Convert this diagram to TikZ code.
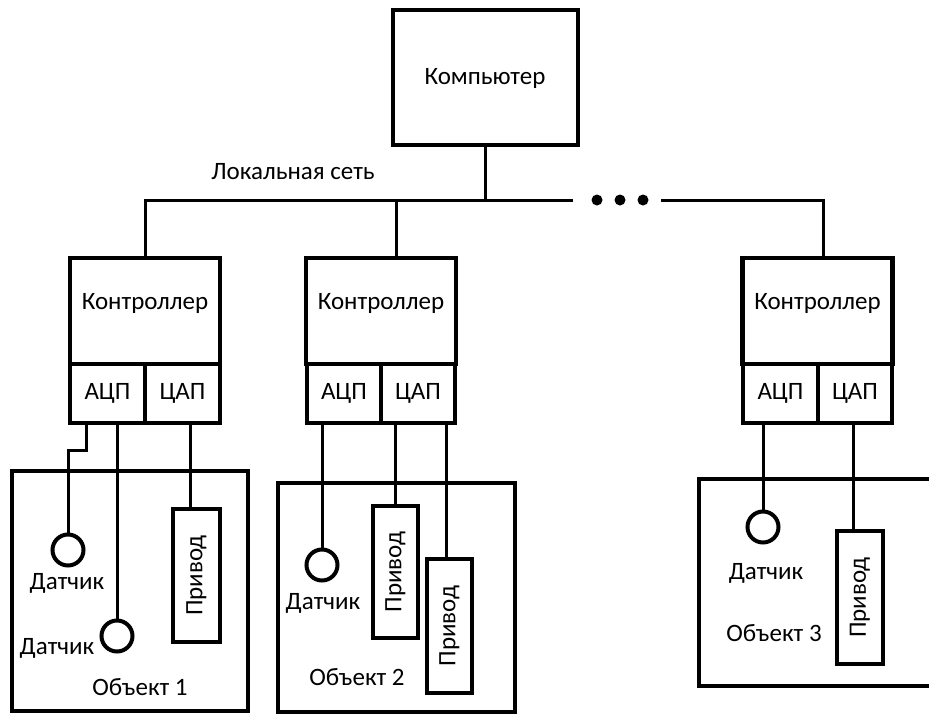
\documentclass[tikz,border=0pt]{standalone}
\usepackage{fontspec}
\setmainfont{Carlito}
\begin{document}
\begin{tikzpicture}[x=1pt,y=-1pt,
  blk/.style={draw, line width=4.2pt, inner sep=0pt},
  wire/.style={line width=3pt},
  sens/.style={draw, circle, line width=4pt, minimum size=31pt, inner sep=0pt},
  lbl/.style={inner sep=0pt, font=\fontsize{25}{30}\selectfont},
  dot/.style={fill, circle, minimum size=11pt, inner sep=0pt}]
\useasboundingbox (0,0) rectangle (929,715);
\clip (0,0) rectangle (929,715);
\fill[white] (0,0) rectangle (929,715);

% Computer
\node[blk, minimum width=185pt, minimum height=135pt] (comp) at (485.5,77.5) {};
\node[lbl] (compt) at (485,78) {Компьютер};
\node[lbl] (net) at (293,172) {Локальная сеть};

% bus coordinates
\coordinate (busE) at (573,200);
\coordinate (busS) at (661,200);
\coordinate (bus2) at (396,200);
\coordinate (busR) at (823,200);
\node[dot] (dt1) at (597,200) {};
\node[dot] (dt2) at (620,200) {};
\node[dot] (dt3) at (643,200) {};

% Controllers
\foreach \n/\xc/\axc/\dxc/\waa/\wdd in {1/145/107.5/182.5/75/75, 2/381/344/418/74/74, 3/817.5/780.5/855/75/74}{
  \node[blk, minimum width=150pt, minimum height=106pt] (c\n) at (\xc,311) {};
  \node[lbl] (ct\n) at (\xc,303) {Контроллер};
  \node[blk, minimum width=\waa pt, minimum height=59pt] (a\n) at (\axc,393.5) {};
  \node[lbl] at (a\n.center) {АЦП};
  \node[blk, minimum width=\wdd pt, minimum height=59pt] (d\n) at (\dxc,393.5) {};
  \node[lbl] at (d\n.center) {ЦАП};
}

% bus wiring
\draw[wire] (c1.north) |- (busE);
\draw[wire] (comp.south) -- (comp.south |- busE);
\draw[wire] (bus2) -- (c2.north -| bus2);
\draw[wire] (busS) -| (c3.north -| busR);

% Objects
\node[blk, minimum width=236pt, minimum height=240pt] (o1) at (130,591) {};
\node[blk, minimum width=237pt, minimum height=229pt] (o2) at (396.5,597.5) {};
\node[blk, minimum width=260pt, minimum height=207pt] (o3) at (829,582.5) {};

% Object 1 contents
\node[sens] (s1a) at (68,550) {};
\node[sens] (s1b) at (117,636) {};
\node[blk, minimum width=47pt, minimum height=133pt] (p1) at (196.5,575.5) {};
\node[lbl, rotate=90] at (p1.center) {Привод};
\node[lbl] at (67,583) {Датчик};
\node[lbl] at (57,648) {Датчик};
\node[lbl] at (140,687) {Объект 1};
\coordinate (j1) at (86,450);
\coordinate (w1) at (190,460);
\draw[wire] (a1.south -| j1) -- (j1) -| (s1a.north);
\draw[wire] (a1.south -| s1b) -- (s1b.north);
\draw[wire] (d1.south -| w1) -- (p1.north -| w1);

% Object 2 contents
\node[sens] (s2) at (322,565) {};
\node[blk, minimum width=45pt, minimum height=132pt] (p2a) at (395.5,572) {};
\node[lbl, rotate=90] at (p2a.center) {Привод};
\node[blk, minimum width=45pt, minimum height=134pt] (p2b) at (449.5,626) {};
\node[lbl, rotate=90] at (p2b.center) {Привод};
\node[lbl] at (323,603) {Датчик};
\node[lbl] at (357,677) {Объект 2};
\coordinate (w2) at (446,460);
\draw[wire] (a2.south -| s2) -- (s2.north);
\draw[wire] (d2.south -| p2a) -- (p2a.north);
\draw[wire] (d2.south -| w2) -- (p2b.north -| w2);

% Object 3 contents
\node[sens] (s3) at (763,527) {};
\node[blk, minimum width=46pt, minimum height=133pt] (p3) at (860,597.5) {};
\node[lbl, rotate=90] at (p3.center) {Привод};
\node[lbl] at (766,573) {Датчик};
\node[lbl] at (774,633) {Объект 3};
\coordinate (w3) at (853,460);
\draw[wire] (a3.south -| s3) -- (s3.north);
\draw[wire] (d3.south -| w3) -- (p3.north -| w3);
\end{tikzpicture}
\end{document}
